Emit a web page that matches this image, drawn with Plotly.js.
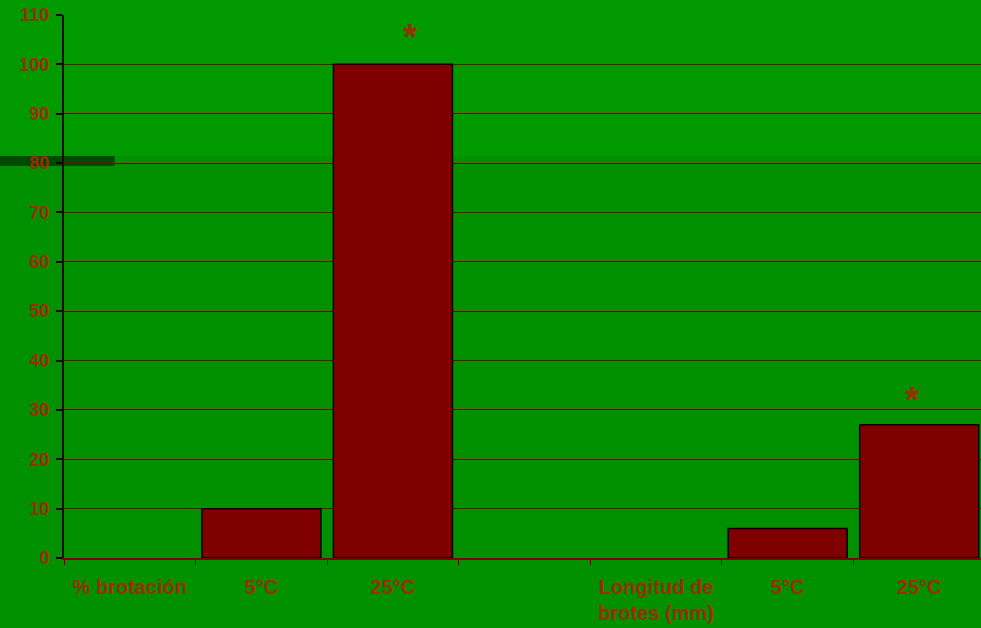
<!DOCTYPE html>
<html>
<head>
<meta charset="utf-8">
<script src="https://cdn.plot.ly/plotly-3.0.1.min.js"></script>
<style>
html,body{margin:0;padding:0;overflow:hidden;background:#009000;}
#chart{width:985px;height:628px;}
</style>
</head>
<body>
<div id="chart"></div>
<script>
const categoryIds = ["c0","c1","c2","c3","c4","c5","c6"];
const categoryLabels = ["% brotación","5°C","25°C","","Longitud de<br>brotes (mm)","5°C","25°C"];
const values = [null, 10, 100, null, null, 6, 27];
const starCategories = ["c2","c6"];
const starValues = [105.5, 32];
const starShifts = [17, -7];
const yTicks = [0,10,20,30,40,50,60,70,80,90,100,110];

const labelColor = "#9a2e00";
const fam = "'Liberation Sans', Arial, sans-serif";

const trace = {
  type: "bar",
  x: categoryIds,
  y: values,
  marker: {color: "#800000", line: {color: "#000000", width: 1.5}},
  width: 0.905,
  hoverinfo: "skip"
};

const annotations = starCategories.map((c, i) => ({
  x: c, y: starValues[i], xref: "x", yref: "y",
  xshift: starShifts[i],
  text: "*", showarrow: false,
  font: {family: fam, size: 36, color: labelColor, weight: 700},
  yanchor: "middle"
}));

const layout = {
  width: 985, height: 628,
  margin: {l: 64, r: 0, t: 15, b: 70},
  paper_bgcolor: "#009000",
  plot_bgcolor: "rgba(0,0,0,0)",
  showlegend: false,
  bargap: 0.095,
  font: {family: fam, color: labelColor, weight: 700},
  xaxis: {
    type: "category",
    tickmode: "array",
    tickvals: categoryIds,
    ticktext: categoryLabels,
    tickson: "boundaries",
    ticks: "outside",
    ticklen: 5,
    tickcolor: "#660000",
    tickwidth: 1,
    ticklabelstandoff: 10,
    showline: true,
    linecolor: "#800000",
    linewidth: 2,
    showgrid: false,
    tickfont: {family: fam, size: 20, color: labelColor, weight: 700},
    fixedrange: true
  },
  yaxis: {
    range: [0, 110],
    tickmode: "array",
    tickvals: yTicks,
    ticks: "outside",
    ticklen: 6,
    tickcolor: "#000000",
    tickwidth: 2,
    ticklabelstandoff: 3,
    showline: true,
    linecolor: "#1a0a00",
    linewidth: 2,
    showgrid: true,
    gridcolor: "#800000",
    gridwidth: 1,
    zeroline: false,
    tickfont: {family: fam, size: 18, color: labelColor, weight: 700},
    fixedrange: true
  },
  shapes: [
    {type: "rect", xref: "paper", yref: "paper", x0: -0.08, x1: 1.01, y0: 0.7403, y1: 1.03,
     fillcolor: "#009a00", line: {width: 0}, layer: "below"},
    {type: "rect", xref: "paper", yref: "paper", x0: -0.0695, x1: 0.055, y0: 0.7219, y1: 0.7403,
     fillcolor: "#004a00", line: {width: 0}, layer: "below"}
  ],
  annotations: annotations
};

Plotly.newPlot("chart", [trace], layout, {staticPlot: true, displayModeBar: false});
</script>
</body>
</html>
